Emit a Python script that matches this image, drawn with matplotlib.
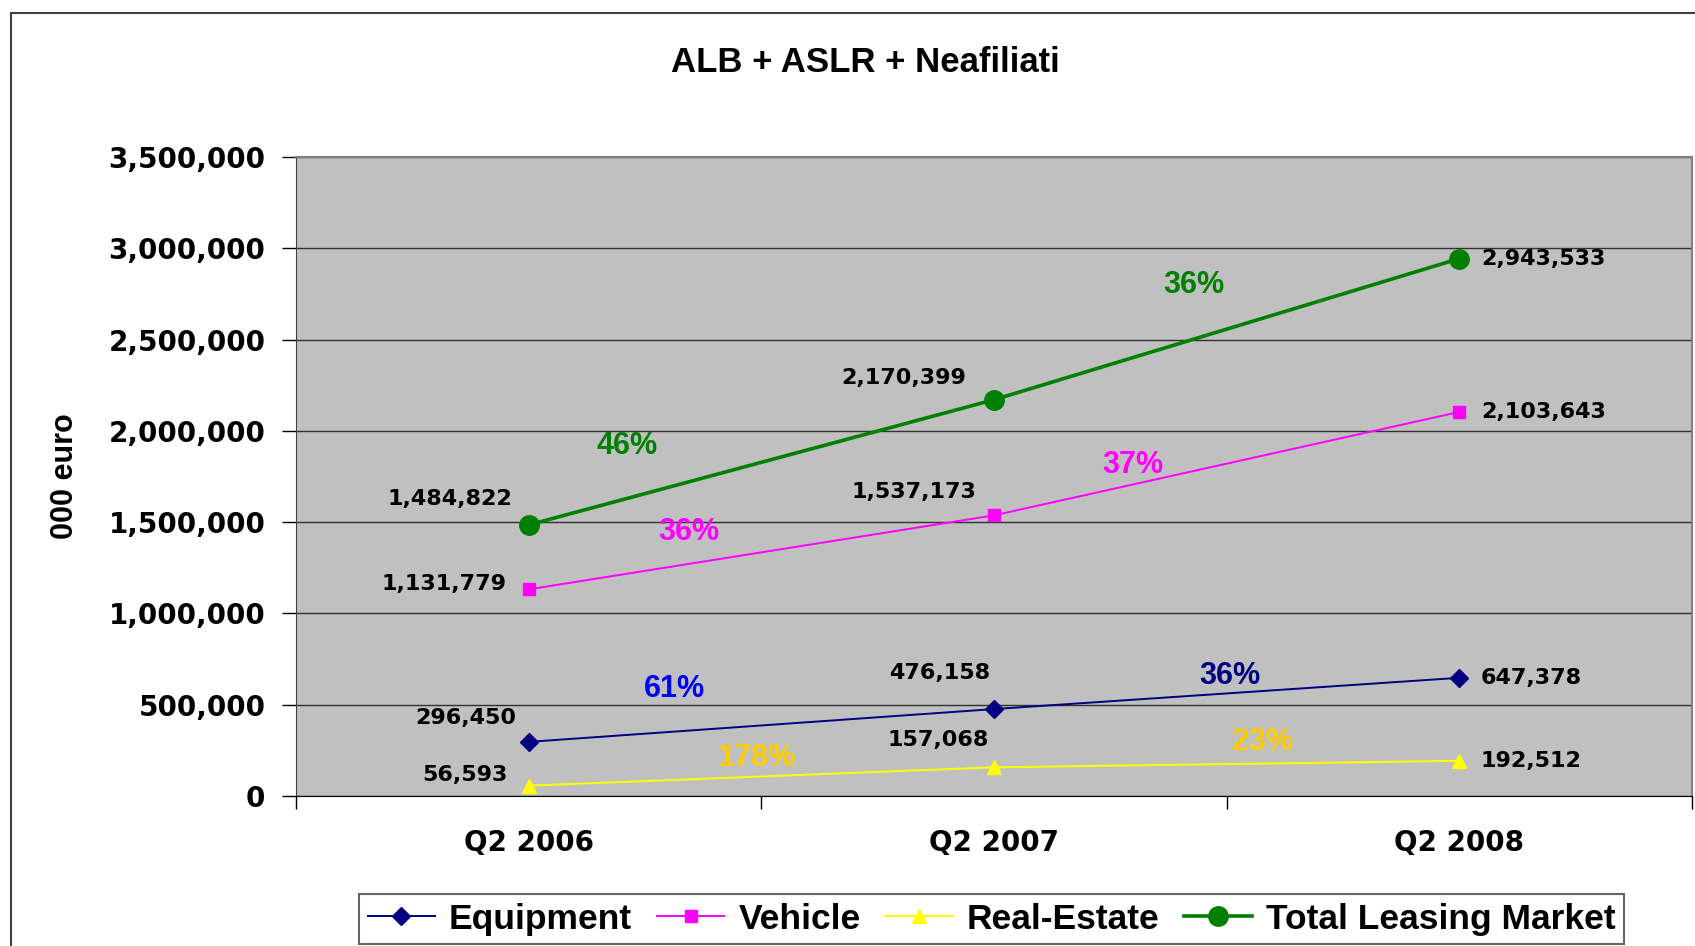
import matplotlib
matplotlib.use("Agg")
import matplotlib.pyplot as plt
from matplotlib.patches import Rectangle
from matplotlib.ticker import FuncFormatter, MultipleLocator

categories = ["Q2 2006", "Q2 2007", "Q2 2008"]
equipment = [296450, 476158, 647378]
vehicle = [1131779, 1537173, 2103643]
real_estate = [56593, 157068, 192512]
total = [1484822, 2170399, 2943533]

pct_equipment = ["61%", "36%"]
pct_vehicle = ["36%", "37%"]
pct_real_estate = ["178%", "23%"]
pct_total = ["46%", "36%"]

W, H = 1695, 946
fig = plt.figure(figsize=(W / 100, H / 100), dpi=100)
fig.patch.set_facecolor("white")
fig.patches.append(Rectangle((11 / W, -0.1), 1.2, 1 - 13 / H + 0.1, transform=fig.transFigure,
                             fill=False, edgecolor="#404040", linewidth=1.5))

ax = fig.add_axes([296 / W, 1 - 796 / H, (1692 - 296) / W, (796 - 157) / H])
ax.set_facecolor("#C0C0C0")
x = list(range(len(categories)))

series = [
    ("Equipment", equipment, "#000080", "D", 9, 1.4, pct_equipment, ["#0000FF", "#000080"]),
    ("Vehicle", vehicle, "#FF00FF", "s", 8.5, 1.4, pct_vehicle, ["#FF00FF", "#FF00FF"]),
    ("Real-Estate", real_estate, "#FFFF00", "^", 10, 1.4, pct_real_estate, ["#FFCC00", "#FFCC00"]),
    ("Total Leasing Market", total, "#008000", "o", 14, 2.6, pct_total, ["#008000", "#008000"]),
]
handles = []
for name, vals, col, mk, ms, lw, pcts, pcols in series:
    h, = ax.plot(x, vals, color=col, marker=mk, markersize=ms, linewidth=lw,
                 markeredgecolor=col, label=name, zorder=3)
    handles.append(h)

ax.set_xlim(-0.5, 2.5)
ax.set_ylim(0, 3500000)
ax.yaxis.set_major_locator(MultipleLocator(500000))
ax.yaxis.set_major_formatter(FuncFormatter(lambda v, p: f"{int(v):,}"))
ax.set_xticks(x)
ax.set_xticklabels(categories)
ax.set_xticks([-0.5, 0.5, 1.5, 2.5], minor=True)
ax.tick_params(axis="x", which="major", length=0, pad=24)
ax.tick_params(axis="x", which="minor", length=9, width=1, color="black")
ax.tick_params(axis="y", length=10, width=1, color="black", pad=12)
for lab in ax.get_xticklabels() + ax.get_yticklabels():
    lab.set_fontfamily("DejaVu Sans")
    lab.set_fontweight("bold")
    lab.set_fontsize(20)
ax.grid(axis="y", color="#303030", linewidth=1.0)
ax.set_axisbelow(True)
for s in ["top", "right"]:
    ax.spines[s].set_color("#808080")
    ax.spines[s].set_linewidth(1.5)
ax.spines["left"].set_color("#404040")
ax.spines["bottom"].set_color("#000000")

ax.set_ylabel("000 euro", fontfamily="Liberation Sans", fontweight="bold", fontsize=22)
ax.yaxis.set_label_coords(-0.155, 0.5)

fig.text(865 / W, 1 - 62 / H, "ALB + ASLR + Neafiliati", ha="center", va="center",
         fontfamily="Liberation Sans", fontweight="bold", fontsize=25)

s = 1.081
lab_kw = dict(textcoords="offset pixels", fontfamily="DejaVu Sans", fontweight="bold",
              fontsize=16, va="center", color="black", zorder=5)
# value labels: offsets (display px) for left, middle, right points
value_offsets = {
    "Equipment": [(-58, -22), (-50, -33), (66, 0)],
    "Vehicle": [(-78, -5), (-74, -22), (78, 0)],
    "Real-Estate": [(-59, -10), (-52, -25), (66, 0)],
    "Total Leasing Market": [(-73, -24), (-84, -20), (80, 0)],
}
pct_offsets = {
    "Equipment": [(-80, -34), (3, -16)],
    "Vehicle": [(-67, -19), (-87, 1)],
    "Real-Estate": [(-5, -17), (33, -20)],
    "Total Leasing Market": [(-124, -15), (-30, -41)],
}
for name, vals, col, mk, ms, lw, pcts, pcols in series:
    for i, v in enumerate(vals):
        dx, dy = value_offsets[name][i]
        if i == 2:
            ax.annotate(f"{v:,}", xy=(i, v), xytext=(20 * s, -dy * s), ha="left", **lab_kw)
        else:
            ax.annotate(f"{v:,}", xy=(i, v), xytext=(dx * s, -dy * s), ha="center", **lab_kw)
    for j, p in enumerate(pcts):
        dx, dy = pct_offsets[name][j]
        ax.annotate(p, xy=(j + 0.5, (vals[j] + vals[j + 1]) / 2), xytext=(dx * s, -dy * s),
                    textcoords="offset pixels", ha="center", va="center", color=pcols[j],
                    fontfamily="Liberation Sans", fontweight="bold", fontsize=22, zorder=5)

leg = fig.legend(handles=handles, loc="center", bbox_to_anchor=((359 + 1624) / 2 / W, 1 - 919 / H),
                 ncol=4, frameon=True, fancybox=False, edgecolor="#404040", handlelength=1.9,
                 handletextpad=0.4, columnspacing=0.7, borderpad=0.25,
                 prop={"family": "Liberation Sans", "weight": "bold", "size": 25.5})
leg.get_frame().set_linewidth(1.5)

fig.savefig("out.png", dpi=100)
